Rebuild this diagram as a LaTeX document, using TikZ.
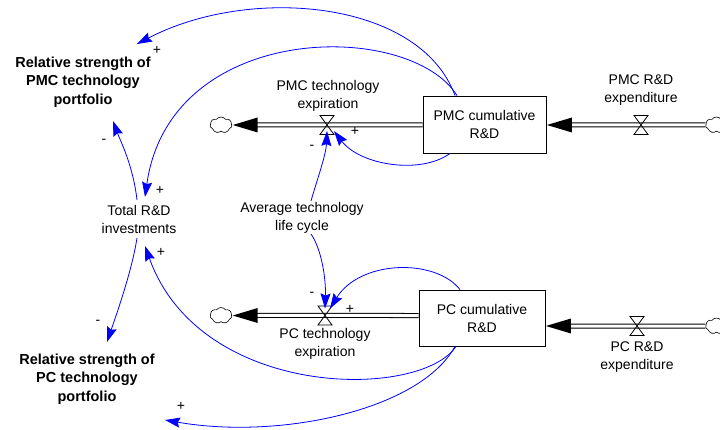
\documentclass[tikz,border=0pt]{standalone}
\usepackage{fontspec}
\setmainfont{Liberation Sans}
\usetikzlibrary{arrows.meta,shapes.symbols,calc}
\begin{document}
\begin{tikzpicture}[x=1pt,y=-1pt,
  lbl/.style={font=\fontsize{14}{18}\selectfont, align=center, inner sep=0pt},
  blbl/.style={font=\fontsize{14.5}{18.5}\selectfont\bfseries, align=center, inner sep=0pt},
  stockbox/.style={draw, line width=0.9pt, align=center, inner sep=0pt, font=\fontsize{14}{18}\selectfont},
  sgn/.style={font=\fontsize{14}{14}\selectfont, inner sep=0pt},
  link/.style={draw=blue, line width=0.8pt, -{Stealth[length=15pt,width=10pt,inset=2pt]}},
  pipe/.style={draw, double=white, double distance=3pt, line width=1pt},
  valveline/.style={draw, line width=0.8pt},
  cloudnode/.style={cloud, draw, cloud puffs=7, cloud puff arc=110, aspect=1.4, minimum width=22pt, minimum height=16pt, inner sep=0pt, line width=0.6pt}]
\useasboundingbox (0,0) rectangle (720,430);
\clip (0,0) rectangle (720,430);

% stocks
\node[stockbox, minimum width=123pt, minimum height=57pt] (pmc) at (484.5,124.5) {PMC cumulative\\R\&D};
\node[stockbox, minimum width=126pt, minimum height=56pt] (pc) at (482,318) {PC cumulative\\R\&D};

% clouds
\node[cloudnode] (cl1) at (221,125) {};
\node[cloudnode] (cl2) at (716.5,125) {};
\node[cloudnode] (cl3) at (221,315.5) {};
\node[cloudnode] (cl4) at (716.5,326) {};

% valves (positions)
\coordinate (v1) at (327,125);
\coordinate (v2) at (641,125);
\coordinate (v3) at (325,315.5);
\coordinate (v4) at (637,326);

% pipes
\draw[pipe, shorten >=24pt] (pmc.west |- cl1) -- (cl1.east);
\fill ($(cl1.east)+(0.5,0)$) -- ++(25,-7.5) -- ++(0,15) -- cycle;
\draw[pipe, shorten >=24pt] (cl2.west) -- (pmc.east |- cl2);
\fill ($(pmc.east |- cl2)+(0.5,0)$) -- ++(25,-7.5) -- ++(0,15) -- cycle;
\draw[pipe, shorten >=24pt] (pc.west |- cl3) -- (cl3.east);
\fill ($(cl3.east)+(0.5,0)$) -- ++(25,-7.5) -- ++(0,15) -- cycle;
\draw[pipe, shorten >=24pt] (cl4.west) -- (pc.east |- cl4);
\fill ($(pc.east |- cl4)+(0.5,0)$) -- ++(25,-7.5) -- ++(0,15) -- cycle;

% valve shapes
\foreach \v in {v1,v2,v3,v4}{
  \draw[valveline] ($(\v)+(-7,-9.5)$) -- ++(14,0) -- ++(-14,19) -- ++(14,0) -- cycle;
}

% labels
\node[lbl] (l1) at (328,95.5) {PMC technology\\expiration};
\node[lbl] (l2) at (641,90) {PMC R\&D\\expenditure};
\node[lbl] (l3) at (325,343.5) {PC technology\\expiration};
\node[lbl] (l4) at (637,357.5) {PC R\&D\\expenditure};
\node[lbl] (avg) at (302,218) {Average technology\\life cycle};
\node[lbl] (tot) at (139,219) {Total R\&D\\investments};
\node[blbl] (rsp) at (83,82) {Relative strength of\\PMC technology\\portfolio};
\node[blbl] (rspc) at (87,379) {Relative strength of\\PC technology\\portfolio};

% links
\draw[link] ([xshift=-29.5pt]pmc.north) .. controls (420,0) and (250,-15) .. ($(rsp)+(54,-38)$);
\draw[link] ([xshift=-27.5pt]pmc.north) .. controls (410,20) and (170,20) .. ($(tot)+(6,-22)$);
\draw[link] ($(tot)+(-2,-19)$) .. controls (133,165) and (120,140) .. ($(rsp)+(30,39)$);
\draw[link] ([xshift=-34.5pt]pmc.south) .. controls (420,175) and (360,165) .. ($(v1)+(7,6)$);
\draw[link] ($(avg)+(9,-17)$) .. controls (317,180) and (326,155) .. ($(v1)+(0,6)$);
\draw[link] ($(avg)+(9,16)$) .. controls (322,250) and (326,280) .. ($(v3)+(0,-7)$);
\draw[link] ([xshift=-22pt]pc.north) .. controls (435,258) and (360,260) .. ($(v3)+(5,-7)$);
\draw[link] ([xshift=-26pt]pc.south) .. controls (420,400) and (200,400) .. ($(tot)+(6,27)$);
\draw[link] ($(tot)+(-2,19)$) .. controls (132,270) and (118,310) .. ($(rspc)+(20,-37)$);
\draw[link] ([xshift=-27pt]pc.south) .. controls (420,410) and (280,440) .. ($(rspc)+(78,41)$);

% signs
\node[sgn] (s1) at (157,50) {+};
\node[sgn] (s2) at (160,190) {+};
\node[sgn] (s3) at (104,141) {-};
\node[sgn] (s4) at (355,131) {+};
\node[sgn] (s5) at (312,147) {-};
\node[sgn] (s6) at (312,294) {-};
\node[sgn] (s7) at (350,309) {+};
\node[sgn] (s8) at (161,252) {+};
\node[sgn] (s9) at (98,322) {-};
\node[sgn] (s10) at (181,406) {+};
\end{tikzpicture}
\end{document}
